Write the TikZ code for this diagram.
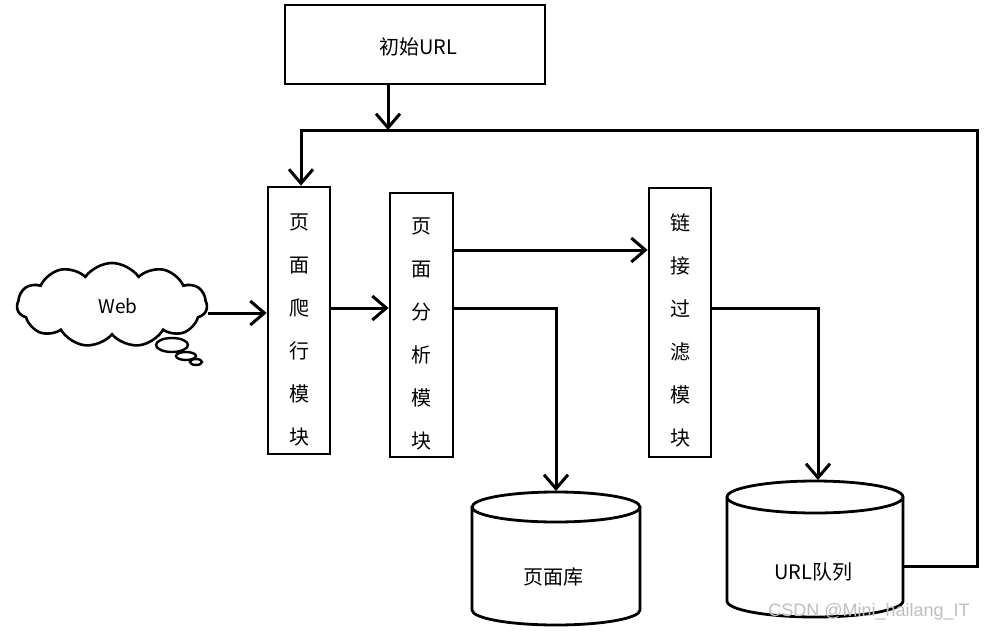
\documentclass[tikz,border=0pt]{standalone}
\usepackage{fontspec}
\newfontfamily\cjk{Noto Sans CJK SC}
\newfontfamily\wm{Liberation Sans}
\usetikzlibrary{arrows.meta,shapes.symbols}
\begin{document}
\begin{tikzpicture}[x=1pt,y=-1pt,
  line/.style={line width=3pt},
  arr/.style={line width=3pt,-{Straight Barb[length=14pt,width=24pt,line width=3pt]}},
  box/.style={draw,line width=2.8pt,inner sep=0pt},
  vtext/.style={font=\cjk\fontsize{20}{43}\selectfont,align=center,inner sep=0pt},
  lbl/.style={font=\cjk\fontsize{20}{24}\selectfont,inner sep=0pt},
  db/.style={line width=2.8pt}
]
\useasboundingbox (0,0) rectangle (987,634);
\fill[white] (0,0) rectangle (987,634);

% top box
\node[box,minimum width=260pt,minimum height=79pt] (top) at (415,44.5) {};
\node[lbl] (toptxt) at (418,47) {初始URL};

% module boxes
\node[box,minimum width=62pt,minimum height=267pt] (b1) at (299,320.5) {};
\node[vtext] (t1) at (299,330) {页\\面\\爬\\行\\模\\块};
\node[box,minimum width=63pt,minimum height=264pt] (b2) at (421.5,325) {};
\node[vtext] (t2) at (421.5,334) {页\\面\\分\\析\\模\\块};
\node[box,minimum width=62pt,minimum height=269pt] (b3) at (680,322.5) {};
\node[vtext] (t3) at (680,330) {链\\接\\过\\滤\\模\\块};

% cloud
\node[cloud,draw,line width=2.6pt,cloud puffs=11,cloud puff arc=110,aspect=2.3,
      minimum width=190pt,minimum height=84pt] (web) at (112,305) {};
\node[font=\cjk\fontsize{19}{20}\selectfont,inner sep=0pt] (webtxt) at (118,306) {Web};
\draw[line width=2.4pt] (172,345) circle[x radius=16pt,y radius=7pt];
\draw[line width=2.4pt] (186,356) circle[x radius=10pt,y radius=4pt];
\draw[line width=2.4pt] (196,362) circle[x radius=6pt,y radius=3pt];

% cylinder 1: 页面库
\draw[db] (472,507) -- (472,610) arc[start angle=180,end angle=360,x radius=84pt,y radius=15pt] -- (640,507);
\draw[db] (556,507) circle[x radius=84pt,y radius=15pt];
\coordinate (db1top) at (556,491);
\node[lbl] (db1) at (553,577) {页面库};

% cylinder 2: URL队列
\draw[db] (727,497) -- (727,601) arc[start angle=180,end angle=360,x radius=88pt,y radius=16pt] -- (903,497);
\draw[db] (815,497) circle[x radius=88pt,y radius=16pt];
\coordinate (db2top) at (818,480);
\coordinate (db2r) at (903,566);
\node[lbl] (db2) at (813,572) {URL队列};

% feedback corner
\coordinate (fbR) at (977,130);

% connectors
\draw[arr] ([yshift=-8pt]web.east) -- ([yshift=-8pt]web.east -| b1.west);
\draw[arr] ([yshift=12.5pt]b1.east) -- ([yshift=12.5pt]b1.east -| b2.west);
\draw[arr] ([yshift=75pt]b2.east) -- ([yshift=75pt]b2.east -| b3.west);
\draw[arr] ([yshift=17pt]b2.east) -| (db1top);
\draw[arr] ([yshift=14.5pt]b3.east) -| (db2top);
\draw[arr] (db2r) -| (fbR) -| ([xshift=2pt]b1.north);
\draw[arr] ([xshift=-27pt]top.south) -- ([xshift=-27pt]top.south |- fbR);

% watermark
\node[font=\wm\fontsize{18}{20}\selectfont,text=gray!50,inner sep=0pt] (wm) at (869,612) {CSDN @Mini\_hailang\_IT};
\end{tikzpicture}
\end{document}
